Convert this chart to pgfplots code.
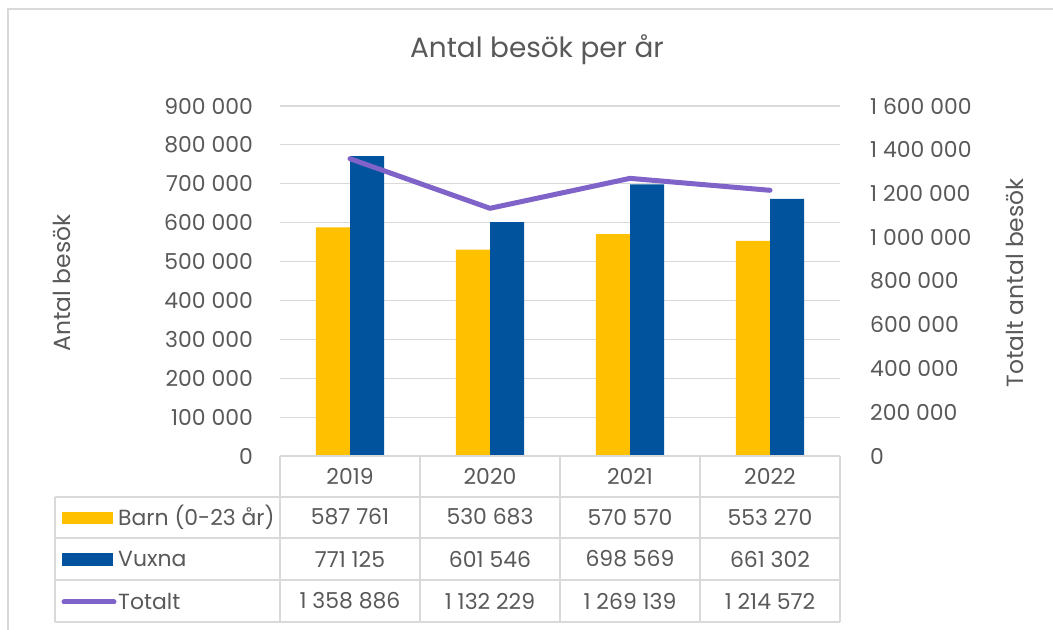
\documentclass[border=0pt]{standalone}
\usepackage{fontspec}
\setmainfont{Poppins}
\usepackage{pgfplots}
\pgfplotsset{compat=1.18}
\definecolor{barnc}{HTML}{FFC000}
\definecolor{vuxc}{HTML}{00539C}
\definecolor{totc}{HTML}{7F63C8}
\definecolor{txt}{HTML}{595959}
\definecolor{grd}{HTML}{D9D9D9}
\newcommand\F{\fontsize{22}{26}\selectfont}
\newcommand\FL{\fontsize{23.5}{28}\selectfont}
\begin{document}
\begin{tikzpicture}[x=1bp,y=1bp]
\useasboundingbox (0,0) rectangle (1053,630);
\fill[white] (0,0) rectangle (1053,630);
\draw[grd, line width=1.5bp] (8,-2) -- (8,621) -- (1060,621);
\begin{axis}[at={(280bp,174bp)}, anchor=south west, scale only axis,
  width=560bp, height=350bp, xmin=-0.5, xmax=3.5, ymin=0, ymax=900000,
  xtick=\empty, ytick={0,100000,200000,300000,400000,500000,600000,700000,800000,900000},
  yticklabels={0,100 000,200 000,300 000,400 000,500 000,600 000,700 000,800 000,900 000},
  scaled y ticks=false,
  ymajorgrids, grid style={grd, line width=1.2bp}, axis line style={draw=none},
  major tick length=0pt,
  yticklabel style={font=\F, text=txt, anchor=east, inner sep=0pt, xshift=-27bp},
  /pgf/number format/assume math mode=true, ybar, bar width=0.243, clip=false]
\addplot[fill=barnc, draw=none, bar shift=-0.1215] coordinates {(0,587761)(1,530683)(2,570570)(3,553270)};
\addplot[fill=vuxc, draw=none, bar shift=0.1215] coordinates {(0,771125)(1,601546)(2,698569)(3,661302)};
\end{axis}
\begin{axis}[at={(280bp,174bp)}, anchor=south west, scale only axis,
  width=560bp, height=350bp, xmin=-0.5, xmax=3.5, ymin=0, ymax=1600000,
  xtick=\empty, ytick={0,200000,400000,600000,800000,1000000,1200000,1400000,1600000},
  yticklabels={0,200 000,400 000,600 000,800 000,1 000 000,1 200 000,1 400 000,1 600 000},
  scaled y ticks=false,
  yticklabel pos=right, axis line style={draw=none}, major tick length=0pt,
  yticklabel style={font=\F, text=txt, anchor=west, inner sep=0pt, xshift=30bp},
  /pgf/number format/assume math mode=true, clip=false]
\addplot[totc, line width=5bp, line cap=round, line join=round, mark=none] coordinates {(0,1358886)(1,1132229)(2,1269139)(3,1214572)};
\end{axis}
% title and axis labels
\node[font=\fontsize{28}{33}\selectfont, text=txt] at (537,580) {Antal besök per år};
\node[font=\FL, text=txt, rotate=90] at (62,347) {Antal besök};
\node[font=\FL, text=txt, rotate=90] at (1015,347) {Totalt antal besök};
% data table grid
\begin{scope}[grd, line width=1.2bp]
\foreach \x in {280,420,560,700,840} \draw (\x,174) -- (\x,8);
\draw (55,133) -- (55,8);
\draw (280,174) -- (840,174);
\foreach \y in {133,92,50,8} \draw (55,\y) -- (840,\y);
\end{scope}
% legend glyphs
\fill[barnc] (62,106) rectangle (113,118);
\fill[vuxc] (62,64) rectangle (113,77);
\draw[totc, line width=5bp, line cap=round] (64,28) -- (114,28);
\begin{scope}[font=\F, text=txt]
\node at (350,154) {2019}; \node at (490,154) {2020}; \node at (630,154) {2021}; \node at (770,154) {2022};
\node[anchor=west, inner sep=0pt] at (118,113) {Barn (0-23 år)};
\node[anchor=west, inner sep=0pt] at (118,71) {Vuxna};
\node[anchor=west, inner sep=0pt] at (118,29) {Totalt};
\node at (350,113) {587 761}; \node at (490,113) {530 683}; \node at (630,113) {570 570}; \node at (770,113) {553 270};
\node at (350,71) {771 125}; \node at (490,71) {601 546}; \node at (630,71) {698 569}; \node at (770,71) {661 302};
\node at (350,29) {1 358 886}; \node at (490,29) {1 132 229}; \node at (630,29) {1 269 139}; \node at (770,29) {1 214 572};
\end{scope}
\end{tikzpicture}
\end{document}
